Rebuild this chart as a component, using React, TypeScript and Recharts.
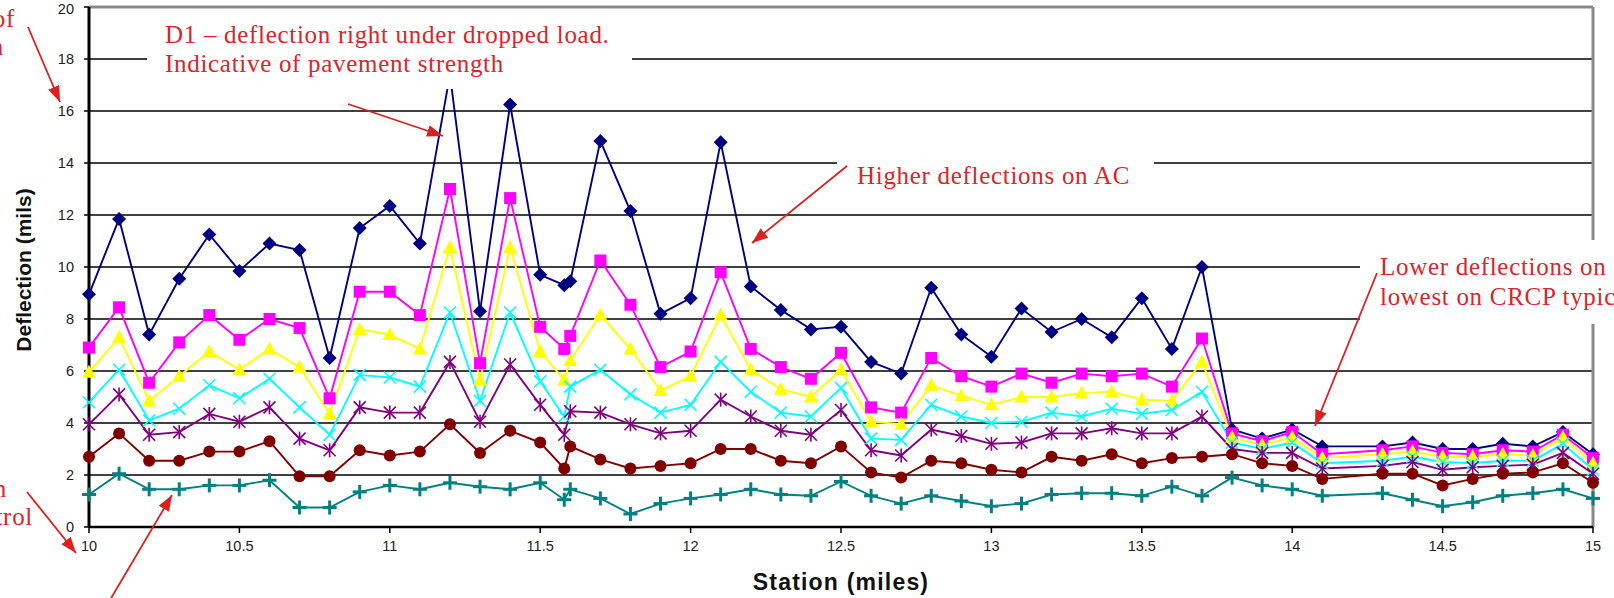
import React from 'react';
import { LineChart, Line, XAxis, YAxis, CartesianGrid, ReferenceLine } from 'recharts';

// station (miles) along the section
const stations = [
  10.0, 10.1, 10.2, 10.3, 10.4, 10.5, 10.6, 10.7, 10.8, 10.9,
  11.0, 11.1, 11.2, 11.3, 11.4, 11.5, 11.58, 11.6, 11.7, 11.8, 11.9,
  12.0, 12.1, 12.2, 12.3, 12.4, 12.5, 12.6, 12.7, 12.8, 12.9,
  13.0, 13.1, 13.2, 13.3, 13.4, 13.5, 13.6, 13.7, 13.8, 13.9,
  14.0, 14.1, 14.3, 14.4, 14.5, 14.6, 14.7, 14.8, 14.9, 15.0,
];

// deflections (mils), sensors D1..D7
const d1 = [
  8.95, 11.85, 7.4, 9.55, 11.25, 9.85, 10.9, 10.65, 6.5, 11.5,
  12.35, 10.9, 17.4, 8.3, 16.25, 9.7, 9.3, 9.45, 14.85, 12.15, 8.2,
  8.8, 14.8, 9.25, 8.35, 7.6, 7.7, 6.35, 5.9, 9.2, 7.4,
  6.55, 8.4, 7.5, 8.0, 7.3, 8.8, 6.85, 10.0, 3.75, 3.4,
  3.75, 3.1, 3.1, 3.25, 3.0, 3.0, 3.2, 3.1, 3.65, 2.8,
];
const d2 = [
  6.9, 8.45, 5.55, 7.1, 8.15, 7.2, 8.0, 7.65, 4.95, 9.05,
  9.05, 8.15, 13.0, 6.3, 12.65, 7.7, 6.85, 7.35, 10.25, 8.55, 6.15,
  6.75, 9.8, 6.85, 6.15, 5.7, 6.7, 4.6, 4.4, 6.5, 5.8,
  5.4, 5.9, 5.55, 5.9, 5.8, 5.9, 5.4, 7.25, 3.6, 3.3,
  3.65, 2.8, 2.95, 3.1, 2.85, 2.8, 2.95, 2.9, 3.55, 2.65,
];
const d3 = [
  5.95, 7.3, 4.85, 5.8, 6.75, 6.05, 6.85, 6.15, 4.35, 7.6,
  7.4, 6.85, 10.75, 5.65, 10.75, 6.75, 5.65, 6.4, 8.15, 6.85, 5.25,
  5.8, 8.15, 6.05, 5.3, 5.0, 6.05, 4.05, 3.95, 5.45, 5.05,
  4.7, 5.0, 5.0, 5.15, 5.2, 4.9, 4.85, 6.35, 3.45, 3.15,
  3.45, 2.65, 2.8, 2.9, 2.7, 2.7, 2.8, 2.75, 3.45, 2.45,
];
const d4 = [
  4.8, 6.05, 4.1, 4.55, 5.45, 4.95, 5.7, 4.6, 3.55, 5.85,
  5.75, 5.4, 8.25, 4.85, 8.25, 5.6, 4.25, 5.4, 6.05, 5.1, 4.4,
  4.7, 6.35, 5.2, 4.4, 4.25, 5.35, 3.4, 3.35, 4.7, 4.25,
  4.0, 4.05, 4.4, 4.25, 4.55, 4.35, 4.5, 5.2, 3.25, 3.0,
  3.25, 2.45, 2.55, 2.7, 2.5, 2.45, 2.55, 2.55, 3.2, 2.2,
];
const d5 = [
  3.95, 5.1, 3.55, 3.65, 4.35, 4.05, 4.6, 3.4, 2.95, 4.6,
  4.4, 4.4, 6.35, 4.05, 6.25, 4.7, 3.55, 4.45, 4.4, 3.95, 3.6,
  3.7, 4.9, 4.25, 3.7, 3.55, 4.5, 2.95, 2.75, 3.75, 3.5,
  3.2, 3.25, 3.6, 3.6, 3.8, 3.6, 3.6, 4.25, 3.0, 2.85,
  2.85, 2.25, 2.35, 2.5, 2.2, 2.3, 2.35, 2.4, 2.85, 2.05,
];
const d6 = [
  2.7, 3.6, 2.55, 2.55, 2.9, 2.9, 3.3, 1.95, 1.95, 2.95,
  2.75, 2.9, 3.95, 2.85, 3.7, 3.25, 2.25, 3.1, 2.6, 2.25, 2.35,
  2.45, 3.0, 3.0, 2.55, 2.45, 3.1, 2.1, 1.9, 2.55, 2.45,
  2.2, 2.1, 2.7, 2.55, 2.8, 2.45, 2.65, 2.7, 2.8, 2.45,
  2.35, 1.85, 2.05, 2.05, 1.6, 1.85, 2.05, 2.1, 2.45, 1.7,
];
const d7 = [
  1.25, 2.05, 1.45, 1.45, 1.6, 1.6, 1.8, 0.75, 0.75, 1.35,
  1.6, 1.45, 1.7, 1.55, 1.45, 1.7, 1.05, 1.45, 1.1, 0.5, 0.9,
  1.1, 1.25, 1.45, 1.25, 1.2, 1.75, 1.2, 0.9, 1.2, 1.0,
  0.8, 0.9, 1.25, 1.3, 1.3, 1.2, 1.55, 1.2, 1.9, 1.6,
  1.45, 1.2, 1.3, 1.05, 0.8, 0.95, 1.2, 1.3, 1.45, 1.1,
];

const xTicks = [10, 10.5, 11, 11.5, 12, 12.5, 13, 13.5, 14, 14.5, 15];
const yTicks = [0, 2, 4, 6, 8, 10, 12, 14, 16, 18, 20];

const series = [
  { key: 'd1', values: d1, color: '#000080', shape: 'diamond' },
  { key: 'd2', values: d2, color: '#ff00ff', shape: 'square' },
  { key: 'd3', values: d3, color: '#ffff00', shape: 'triangle' },
  { key: 'd4', values: d4, color: '#00ffff', shape: 'x' },
  { key: 'd5', values: d5, color: '#800080', shape: 'star' },
  { key: 'd6', values: d6, color: '#800000', shape: 'circle' },
  { key: 'd7', values: d7, color: '#008080', shape: 'plus' },
];

const data = stations.map((station, i) => {
  const row: Record<string, number> = { station };
  series.forEach((s) => { row[s.key] = s.values[i]; });
  return row;
});

const makeDot = (shape: string, color: string) => (props: any) => {
  const { cx, cy, index } = props;
  const k = `${shape}-${index}`;
  if (cx == null || cy == null) return <g key={k} />;
  switch (shape) {
    case 'diamond':
      return <polygon key={k} points={`${cx},${cy - 7} ${cx + 7},${cy} ${cx},${cy + 7} ${cx - 7},${cy}`} fill={color} />;
    case 'square':
      return <rect key={k} x={cx - 6} y={cy - 6} width={12} height={12} fill={color} />;
    case 'triangle':
      return <polygon key={k} points={`${cx},${cy - 7.5} ${cx + 7},${cy + 5.5} ${cx - 7},${cy + 5.5}`} fill={color} />;
    case 'x':
      return (
        <g key={k} stroke={color} strokeWidth={1.6}>
          <line x1={cx - 6} y1={cy - 6} x2={cx + 6} y2={cy + 6} />
          <line x1={cx - 6} y1={cy + 6} x2={cx + 6} y2={cy - 6} />
        </g>
      );
    case 'star':
      return (
        <g key={k} stroke={color} strokeWidth={1.6}>
          <line x1={cx - 6} y1={cy - 6} x2={cx + 6} y2={cy + 6} />
          <line x1={cx - 6} y1={cy + 6} x2={cx + 6} y2={cy - 6} />
          <line x1={cx} y1={cy - 7} x2={cx} y2={cy + 7} />
        </g>
      );
    case 'circle':
      return <circle key={k} cx={cx} cy={cy} r={6} fill={color} />;
    default:
      return (
        <g key={k} stroke={color} strokeWidth={3}>
          <line x1={cx - 7} y1={cy} x2={cx + 7} y2={cy} />
          <line x1={cx} y1={cy - 7} x2={cx} y2={cy + 7} />
        </g>
      );
  }
};

const RED = '#dd1f1f';
const serif = { fontFamily: 'Liberation Serif, serif', fontSize: 25, letterSpacing: 0.7, fill: '#d8262a' };

function Annotations() {
  const arrows = [
    [28, 27, 60, 102],
    [27, 492, 76, 553],
    [110, 600, 172, 495],
    [348, 104, 443, 136],
    [847, 166, 752, 243],
    [1377, 273, 1315, 426],
  ];
  return (
    <svg width={1614} height={598} style={{ position: 'absolute', left: 0, top: 0, pointerEvents: 'none' }}>
      <defs>
        <marker id="ah" markerUnits="userSpaceOnUse" markerWidth={16} markerHeight={12} refX={16} refY={6} orient="auto">
          <path d="M0,0 L16,6 L0,12 z" fill={RED} />
        </marker>
      </defs>
      <rect x={147} y={9} width={485} height={80} fill="#fff" />
      <rect x={837} y={140} width={317} height={58} fill="#fff" />
      <rect x={1360} y={240} width={260} height={84} fill="#fff" />

      <text x={165} y={43} {...serif}>D1 – deflection right under dropped load.</text>
      <text x={165} y={72} {...serif}>Indicative of pavement strength</text>
      <text x={857} y={184} {...serif}>Higher deflections on AC</text>
      <text x={1380} y={275} {...serif}>Lower deflections on</text>
      <text x={1380} y={305} {...serif}>lowest on CRCP typically</text>

      <text x={15} y={27} {...serif} textAnchor="end">of</text>
      <text x={4} y={55} {...serif} textAnchor="end">n</text>
      <text x={7} y={497} {...serif} textAnchor="end">n</text>
      <text x={33} y={525} {...serif} textAnchor="end">trol</text>

      {arrows.map(([x1, y1, x2, y2], i) => (
        <line key={i} x1={x1} y1={y1} x2={x2} y2={y2} stroke={RED} strokeWidth={1.8} markerEnd="url(#ah)" />
      ))}

      <text
        x={23}
        y={270}
        transform="rotate(-90 23 270)"
        textAnchor="middle"
        dominantBaseline="central"
        style={{ fontFamily: 'Liberation Sans, Arial, sans-serif', fontWeight: 700, fontSize: 21 }}
        fill="#111"
      >
        Deflection (mils)
      </text>
      <text
        x={841}
        y={590}
        textAnchor="middle"
        style={{ fontFamily: 'Liberation Sans, Arial, sans-serif', fontWeight: 700, fontSize: 23, letterSpacing: 1.2 }}
        fill="#111"
      >
        Station (miles)
      </text>
    </svg>
  );
}

export default function App() {
  const tickStyle = { fill: '#222', fontSize: 14.5, fontFamily: 'Liberation Sans, Arial, sans-serif' };
  return (
    <div style={{ position: 'absolute', left: 0, top: 0, width: 1614, height: 598, overflow: 'hidden', background: '#fff' }}>
      <LineChart width={1614} height={598} data={data} margin={{ top: 7, right: 21, bottom: 41, left: 0 }}>
        <CartesianGrid vertical={false} stroke="#000" strokeWidth={1.4} />
        <XAxis
          dataKey="station"
          type="number"
          domain={[10, 15]}
          ticks={xTicks}
          height={30}
          tick={tickStyle}
          tickSize={6}
          tickMargin={8}
          axisLine={{ stroke: '#000', strokeWidth: 2.5 }}
          tickLine={{ stroke: '#000', strokeWidth: 1.5 }}
        />
        <YAxis
          type="number"
          domain={[0, 20]}
          ticks={yTicks}
          width={89}
          tick={tickStyle}
          tickSize={5}
          tickMargin={10}
          axisLine={{ stroke: '#000', strokeWidth: 3 }}
          tickLine={{ stroke: '#000', strokeWidth: 1.5 }}
        />
        <ReferenceLine y={20} stroke="#8a8a8a" strokeWidth={3} />
        <ReferenceLine x={15} stroke="#8a8a8a" strokeWidth={3} />
        {series.map((s) => (
          <Line
            key={s.key}
            dataKey={s.key}
            type="linear"
            stroke={s.color}
            strokeWidth={1.9}
            dot={makeDot(s.shape, s.color)}
            activeDot={false}
            isAnimationActive={false}
          />
        ))}
      </LineChart>
      <Annotations />
    </div>
  );
}
